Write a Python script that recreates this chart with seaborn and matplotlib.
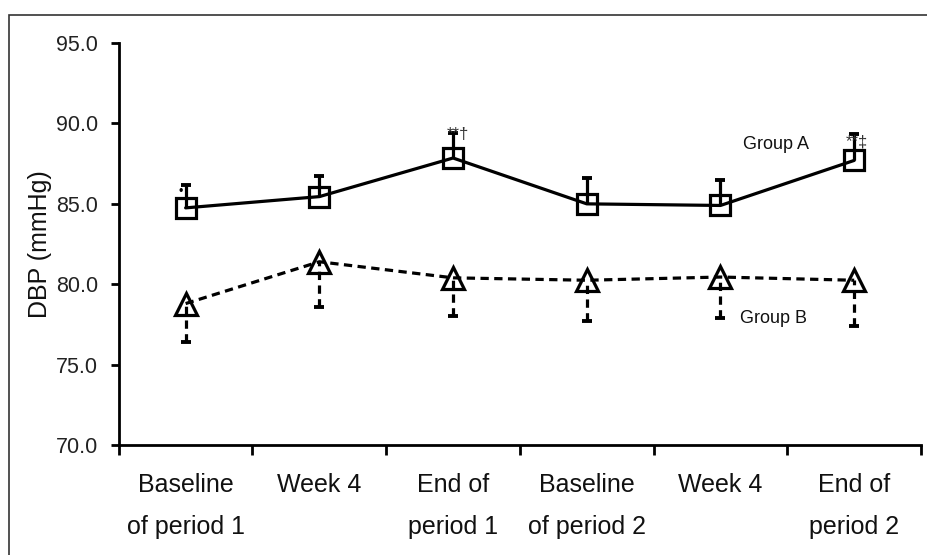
import numpy as np
import pandas as pd
import matplotlib
matplotlib.use("Agg")
import matplotlib.pyplot as plt
import seaborn as sns
from matplotlib.patches import Rectangle

# data
time_labels = ["Baseline\nof period 1", "Week 4", "End of\nperiod 1",
               "Baseline\nof period 2", "Week 4", "End of\nperiod 2"]
group_a_mean = [84.75, 85.45, 87.85, 85.0, 84.9, 87.7]
group_a_sd = [1.45, 1.3, 1.55, 1.6, 1.6, 1.65]
group_b_mean = [78.8, 81.4, 80.4, 80.25, 80.45, 80.25]
group_b_sd = [2.4, 2.8, 2.4, 2.55, 2.55, 2.85]
y_ticks = [70.0, 75.0, 80.0, 85.0, 90.0, 95.0]

sns.set_style("white")
plt.rcParams["font.family"] = ["Liberation Sans", "DejaVu Sans"]

pos = np.arange(len(time_labels))
df = pd.DataFrame({
    "pos": np.concatenate([pos, pos]),
    "dbp": group_a_mean + group_b_mean,
    "group": ["Group A"] * 6 + ["Group B"] * 6,
})

fig = plt.figure(figsize=(9.28, 5.55), dpi=100)
ax = fig.add_axes([0.128, 0.198, 0.8645, 0.7245])

dash = (0, (2.6, 1.7))
styles = {
    "Group A": dict(marker="s", ls="-", sd=group_a_sd, up=True),
    "Group B": dict(marker="^", ls=dash, sd=group_b_sd, up=False),
}

for name, st in styles.items():
    sub = df[df["group"] == name]
    sns.lineplot(data=sub, x="pos", y="dbp", ax=ax, color="black",
                 linewidth=2.3, linestyle=st["ls"], marker=st["marker"],
                 markersize=14.5 if st["marker"] == "s" else 15.5,
                 markerfacecolor="none", markeredgecolor="black",
                 markeredgewidth=2.3, zorder=3)
    sd = np.array(st["sd"])
    zeros = np.zeros_like(sd)
    yerr = [zeros, sd] if st["up"] else [sd, zeros]
    eb = ax.errorbar(sub["pos"], sub["dbp"], yerr=yerr, fmt="none",
                     ecolor="black", elinewidth=2.3, capsize=3.5,
                     capthick=2.8, zorder=2)
    for cap in eb[1]:
        if np.allclose(cap.get_ydata(), sub["dbp"].values):
            cap.set_visible(False)
    if not st["up"]:
        eb[2][0].set_linestyle(dash)

# axes styling
ax.set_xlim(-0.5, 5.5)
ax.set_ylim(70, 95)
ax.set_yticks(y_ticks)
ax.set_yticklabels([f"{v:.1f}" for v in y_ticks], fontsize=15.5, color="#222222")
ax.set_xticks(np.arange(-0.5, 6, 1.0))
ax.set_xticklabels([])
ax.set_xticks(pos, minor=True)
ax.set_xticklabels(time_labels, minor=True, fontsize=18, color="#111111",
                   linespacing=1.95)
ax.tick_params(axis="x", which="major", direction="out", length=7, width=2,
               color="black", bottom=True)
ax.tick_params(axis="x", which="minor", length=0, pad=20)
ax.tick_params(axis="y", direction="out", length=6, width=2, color="black",
               pad=9, left=True)
ax.set_xlabel("")
ax.set_ylabel("DBP (mmHg)", fontsize=18, color="#111111", labelpad=3)
sns.despine(ax=ax)
for side in ["left", "bottom"]:
    ax.spines[side].set_linewidth(2)
    ax.spines[side].set_color("black")

# annotations
ax.text(2.04, 89.3, "**†", fontsize=12, ha="center", va="center", color="#333333")
ax.text(5.02, 88.85, "**‡", fontsize=12, ha="center", va="center", color="#333333")
ax.text(-0.04, 85.75, "•", fontsize=9, ha="center", va="center", color="black")
ax.text(4.415, 88.66, "Group A", fontsize=13, ha="center", va="center", color="#111111")
ax.text(4.40, 77.9, "Group B", fontsize=13, ha="center", va="center", color="#111111")

# figure frame
fig.patches.append(Rectangle((9 / 928, -0.01), 1.0, 1 - 15 / 555 + 0.01,
                             transform=fig.transFigure, fill=False,
                             edgecolor="#333333", linewidth=1.2))

fig.savefig("out.png", dpi=100)
